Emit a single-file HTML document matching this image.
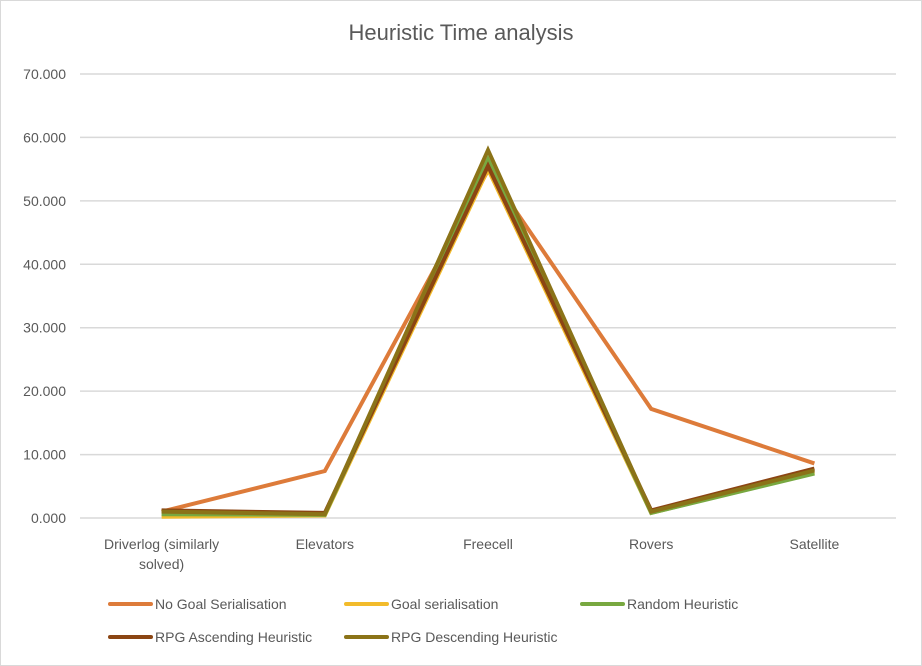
<!DOCTYPE html>
<html><head><meta charset="utf-8"><style>
body{margin:0;background:#fff;}
svg{display:block;font-family:"Liberation Sans",sans-serif;}
</style></head><body>
<svg id="chart" width="922" height="666" viewBox="0 0 922 666">
<rect x="0.5" y="0.5" width="921" height="665" fill="#fff" stroke="#d9d9d9"/>
<text x="461" y="40" text-anchor="middle" font-size="22" fill="#595959">Heuristic Time analysis</text>
<g id="grid"></g><g id="ylabels"></g><g id="xlabels"></g><g id="series"></g><g id="legend"></g>
</svg>
<script>
const categories=["Driverlog (similarly|solved)","Elevators","Freecell","Rovers","Satellite"];
const yTicks=[0,10,20,30,40,50,60,70];
const seriesNames=["No Goal Serialisation","Goal serialisation","Random Heuristic","RPG Ascending Heuristic","RPG Descending Heuristic"];
const seriesColors=["#dd7b3a","#f2bb2b","#78a840","#8b4513","#8b7318"];
const noGoal=[1.0,7.4,54.8,17.2,8.6];
const goalSer=[0.2,0.4,55.0,0.8,7.2];
const randomH=[0.6,0.5,56.5,0.8,7.0];
const rpgAsc=[1.2,0.8,55.5,1.2,7.8];
const rpgDesc=[1.0,0.6,58.0,1.0,7.5];
const seriesData=[noGoal,goalSer,randomH,rpgAsc,rpgDesc];
const NS="http://www.w3.org/2000/svg";
const L=80,R=896,Y0=518,Y70=74;
const y=v=>Y0-(v/70)*(Y0-Y70);
const x=i=>L+(R-L)/categories.length*(i+0.5);
function mk(t,a,p){const e=document.createElementNS(NS,t);for(const k in a)e.setAttribute(k,a[k]);p.appendChild(e);return e;}
const grid=document.getElementById('grid'),yl=document.getElementById('ylabels'),xl=document.getElementById('xlabels'),sg=document.getElementById('series'),lg=document.getElementById('legend');
yTicks.forEach(t=>{
 const g=mk('line',{x1:L,x2:R,y1:y(t),y2:y(t),stroke:'#d9d9d9','stroke-width':1.5},grid);
 
 
 const tx=mk('text',{x:66,y:y(t)+5,'text-anchor':'end','font-size':14,fill:'#595959'},yl);
 tx.textContent=t.toFixed(3);
 
 
});
categories.forEach((c,i)=>{
 c.split('|').forEach((ln,j)=>{
  const tx=mk('text',{x:x(i),y:549+j*20,'text-anchor':'middle','font-size':14,fill:'#595959'},xl);
  tx.textContent=ln;
  
  
 });
});
seriesData.forEach((d,s)=>{
 const p=mk('polyline',{points:d.map((v,i)=>x(i)+','+y(v)).join(' '),fill:'none',stroke:seriesColors[s],'stroke-width':4,'stroke-linejoin':'miter'},sg);
 
 
});
const lpos=[[110,604],[346,604],[582,604],[110,637],[346,637]];
seriesNames.forEach((n,s)=>{
 const [lx,ly]=lpos[s];
 const g=mk('g',{},lg);
 
 
 mk('line',{x1:lx,x2:lx+41,y1:ly,y2:ly,stroke:seriesColors[s],'stroke-width':4,'stroke-linecap':'round'},g);
 const t=mk('text',{x:lx+45,y:ly+5,'font-size':14,fill:'#595959'},g);
 t.textContent=n;
});
</script>
</body></html>
